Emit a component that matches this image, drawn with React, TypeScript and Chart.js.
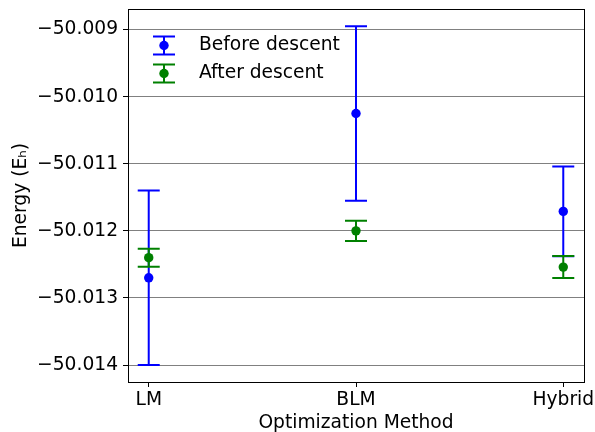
import React, { useEffect, useRef } from 'react';
import { Chart, registerables } from 'chart.js';

Chart.register(...registerables);

const categories = ['LM', 'BLM', 'Hybrid'];
const seriesLabels = ['Before descent', 'After descent'];
const seriesColors = ['#0000ff', '#008000'];
const beforeMean = [-50.0127, -50.01025, -50.01171];
const beforeErr = [0.0013, 0.0013, 0.00067];
const afterMean = [-50.0124, -50.012, -50.01254];
const afterErr = [0.000134, 0.00015, 0.000164];
const yTicks = [-50.009, -50.01, -50.011, -50.012, -50.013, -50.014];
const xTicks = [0, 1, 2];
const yMin = -50.014253;
const yMax = -50.008693;
const xMin = -0.1;
const xMax = 2.1;

const FONT = 'DejaVu Sans';
const FS = 18.67;

const errorBarPlugin = {
  id: 'errorBars',
  beforeDatasetDraw(chart: any, args: any) {
    const ds: any = chart.data.datasets[args.index];
    const errs: number[] = ds.errors;
    if (!errs) return;
    const ctx = chart.ctx;
    const xs = chart.scales.x;
    const ys = chart.scales.y;
    ctx.save();
    ctx.strokeStyle = ds.borderColor;
    ctx.lineWidth = 2;
    ds.data.forEach((p: any, i: number) => {
      const x = xs.getPixelForValue(p.x);
      const top = ys.getPixelForValue(p.y + errs[i]);
      const bot = ys.getPixelForValue(p.y - errs[i]);
      ctx.beginPath();
      ctx.moveTo(x, top);
      ctx.lineTo(x, bot);
      ctx.moveTo(x - 11, top);
      ctx.lineTo(x + 11, top);
      ctx.moveTo(x - 11, bot);
      ctx.lineTo(x + 11, bot);
      ctx.stroke();
    });
    ctx.restore();
  },
};

const framePlugin = {
  id: 'frame',
  afterDraw(chart: any) {
    const { ctx, chartArea: a } = chart;
    ctx.save();
    ctx.strokeStyle = '#000';
    ctx.lineWidth = 1;
    ctx.strokeRect(Math.round(a.left) + 0.5, Math.round(a.top) + 0.5, Math.round(a.right - a.left), Math.round(a.bottom - a.top));
    ctx.restore();
  },
};

const legendPlugin = {
  id: 'customLegend',
  afterDraw(chart: any) {
    const ctx = chart.ctx;
    const a = chart.chartArea;
    const hx = a.left + 36;
    const tx = a.left + 71;
    const y0 = a.top + 36.5;
    const dy = 28;
    ctx.save();
    chart.data.datasets.slice().sort((p: any, q: any) => p.legendIndex - q.legendIndex).forEach((ds: any, i: number) => {
      const y = y0 + i * dy;
      ctx.strokeStyle = ds.borderColor;
      ctx.fillStyle = ds.backgroundColor;
      ctx.lineWidth = 2;
      ctx.beginPath();
      ctx.moveTo(hx, y - 9);
      ctx.lineTo(hx, y + 9);
      ctx.moveTo(hx - 11, y - 9);
      ctx.lineTo(hx + 11, y - 9);
      ctx.moveTo(hx - 11, y + 9);
      ctx.lineTo(hx + 11, y + 9);
      ctx.stroke();
      ctx.beginPath();
      ctx.arc(hx, y, 4.7, 0, Math.PI * 2);
      ctx.fill();
      ctx.fillStyle = '#000';
      ctx.font = `${FS}px "${FONT}"`;
      ctx.textBaseline = 'middle';
      ctx.textAlign = 'left';
      ctx.fillText(ds.label, tx, y);
    });
    ctx.restore();
  },
};

export default function App() {
  const ref = useRef<HTMLCanvasElement | null>(null);

  useEffect(() => {
    if (!ref.current) return;
    const chart = new Chart(ref.current, {
      type: 'scatter',
      data: {
        datasets: [
          {
            label: seriesLabels[1],
            data: afterMean.map((v, i) => ({ x: i, y: v })),
            errors: afterErr,
            legendIndex: 1,
            borderColor: seriesColors[1],
            backgroundColor: seriesColors[1],
            pointRadius: 4.7,
            pointBorderWidth: 0,
            showLine: false,
            order: 1,
          } as any,
          {
            label: seriesLabels[0],
            data: beforeMean.map((v, i) => ({ x: i, y: v })),
            errors: beforeErr,
            legendIndex: 0,
            borderColor: seriesColors[0],
            backgroundColor: seriesColors[0],
            pointRadius: 4.7,
            pointBorderWidth: 0,
            showLine: false,
            order: 2,
          } as any,
        ],
      },
      options: {
        responsive: false,
        animation: false,
        layout: { padding: { top: 9, right: 11, bottom: 0, left: 0 } },
        plugins: {
          legend: { display: false },
          tooltip: { enabled: false },
        },
        scales: {
          x: {
            type: 'linear',
            min: xMin,
            max: xMax,
            afterBuildTicks: (s: any) => {
              s.ticks = xTicks.map((v) => ({ value: v }));
            },
            afterFit: (s: any) => {
              s.height = 50;
              s.paddingLeft = 0;
              s.paddingRight = 0;
              s.paddingTop = 0;
              s.paddingBottom = 0;
            },
            ticks: {
              color: '#000',
              font: { family: FONT, size: FS },
              padding: 2,
              maxRotation: 0,
              autoSkip: false,
              callback: (v: any) => categories[Math.round(Number(v))] ?? '',
            },
            grid: {
              drawOnChartArea: false,
              drawTicks: true,
              tickLength: 5,
              tickColor: '#000',
              color: '#000',
            },
            border: { display: false },
            title: {
              display: true,
              text: 'Optimization Method',
              color: '#000',
              font: { family: FONT, size: FS, lineHeight: 1 },
              padding: { top: 0, bottom: 0 },
            },
          },
          y: {
            type: 'linear',
            min: yMin,
            max: yMax,
            afterBuildTicks: (s: any) => {
              s.ticks = yTicks.map((v) => ({ value: v }));
            },
            afterFit: (s: any) => {
              s.width = 128;
              s.paddingLeft = 0;
              s.paddingRight = 0;
              s.paddingTop = 0;
              s.paddingBottom = 0;
            },
            ticks: {
              color: '#000',
              font: { family: FONT, size: FS },
              padding: 5,
              autoSkip: false,
              callback: (v: any) => '\u2212' + Math.abs(Number(v)).toFixed(3),
            },
            grid: {
              color: '#808080',
              lineWidth: 1,
              drawTicks: true,
              tickLength: 5,
              tickColor: '#000',
            },
            border: { display: false },
            title: {
              display: true,
              text: 'Energy (E\u2095)',
              color: '#000',
              font: { family: FONT, size: FS },
              padding: { top: 9.5, bottom: 0 },
            },
          },
        },
      },
      plugins: [errorBarPlugin, framePlugin, legendPlugin],
    });
    return () => chart.destroy();
  }, []);

  return (
    <div style={{ position: 'absolute', left: 0, top: 0, width: 595, height: 432, background: '#fff' }}>
      <canvas ref={ref} width={595} height={432} style={{ display: 'block' }} />
    </div>
  );
}
